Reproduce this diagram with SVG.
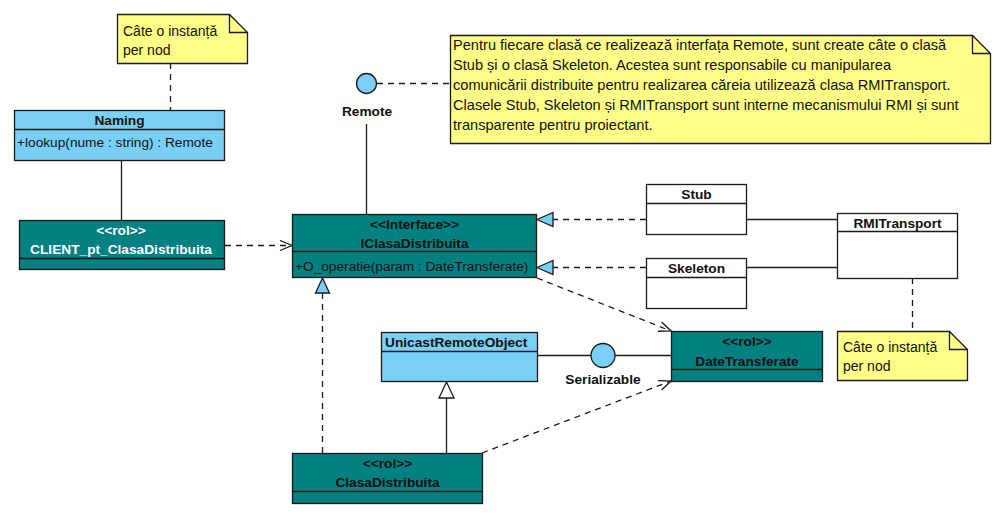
<svg xmlns="http://www.w3.org/2000/svg" width="1001" height="518" viewBox="0 0 1001 518">
  <defs>
    <style>
      .bg { fill: #ffffff; }
      .box { stroke: #1a1a1a; stroke-width: 1.3; }
      .teal { fill: #008080; }
      .blue { fill: #7acff5; }
      .white { fill: #ffffff; }
      .note { fill: #ffff88; stroke: #1a1a1a; stroke-width: 1.3; }
      .sep { stroke: #1a1a1a; stroke-width: 1.3; fill: none; }
      .line { stroke: #1a1a1a; stroke-width: 1.3; fill: none; }
      .dash { stroke: #1a1a1a; stroke-width: 1.3; fill: none; stroke-dasharray: 6 5; }
      .t { font-family: "Liberation Sans", Arial, sans-serif; font-size: 13.7px; fill: #111111; }
      .b { font-weight: bold; }
      .c { text-anchor: middle; }
      .w { fill: #ffffff; }
      .n { font-size: 14px; }
      .m { font-size: 14.6px; }
    </style>
    <marker id="open" viewBox="0 0 14 12" refX="13" refY="6" markerWidth="14" markerHeight="12" markerUnits="userSpaceOnUse" orient="auto">
      <path d="M1,1 L13,6 L1,11" fill="none" stroke="#1a1a1a" stroke-width="1.3"/>
    </marker>
  </defs>

  <rect class="bg" x="0" y="0" width="1001" height="518"/>

  <!-- connectors -->
  <g id="connectors">
    <!-- note anchors -->
    <line class="dash" x1="170.5" y1="63" x2="170.5" y2="110"/>
    <line class="dash" x1="377" y1="83.5" x2="450" y2="83.5"/>
    <line class="dash" x1="912.5" y1="278" x2="912.5" y2="331"/>
    <!-- associations -->
    <line class="line" x1="121.5" y1="160" x2="121.5" y2="220"/>
    <line class="line" x1="366.5" y1="124" x2="366.5" y2="214"/>
    <line class="line" x1="747" y1="219.5" x2="837" y2="219.5"/>
    <line class="line" x1="747" y1="267.5" x2="837" y2="267.5"/>
    <line class="line" x1="537" y1="355.5" x2="591" y2="355.5"/>
    <line class="line" x1="615" y1="355.5" x2="671" y2="355.5"/>
    <!-- dependencies -->
    <line class="dash" x1="225" y1="245.5" x2="292" y2="245.5" marker-end="url(#open)"/>
    <line class="dash" x1="537" y1="278" x2="671" y2="331" marker-end="url(#open)"/>
    <line class="dash" x1="482" y1="453" x2="671" y2="381" marker-end="url(#open)"/>
    <!-- realizations -->
    <line class="dash" x1="646" y1="219.5" x2="553" y2="219.5"/>
    <path d="M537,219.5 L553,212.5 L553,226.5 Z" fill="#7acff5" stroke="#1a1a1a" stroke-width="1.3"/>
    <line class="dash" x1="646" y1="267.5" x2="553" y2="267.5"/>
    <path d="M537,267.5 L553,260.5 L553,274.5 Z" fill="#7acff5" stroke="#1a1a1a" stroke-width="1.3"/>
    <line class="dash" x1="322.5" y1="453" x2="322.5" y2="293"/>
    <path d="M322.5,278 L315.5,293 L329.5,293 Z" fill="#7acff5" stroke="#1a1a1a" stroke-width="1.3"/>
    <!-- generalization -->
    <line class="line" x1="446.5" y1="453" x2="446.5" y2="398"/>
    <path d="M446.5,382 L439,398 L454,398 Z" fill="#ffffff" stroke="#1a1a1a" stroke-width="1.3"/>
  </g>

  <!-- note: Naming instance -->
  <g id="note-naming">
    <path class="note" d="M117.5,14.5 L229.5,14.5 L247.5,32.5 L247.5,63.5 L117.5,63.5 Z"/>
    <path class="sep" d="M229.5,14.5 L229.5,32.5 L247.5,32.5"/>
    <text class="t n" x="123" y="36">Câte o instanță</text>
    <text class="t n" x="123" y="55">per nod</text>
  </g>

  <!-- Naming -->
  <g id="naming">
    <rect class="box blue" x="14.5" y="110.5" width="210" height="50"/>
    <line class="sep" x1="14.5" y1="129.5" x2="224.5" y2="129.5"/>
    <text class="t b c" x="119.5" y="125">Naming</text>
    <text class="t" x="17" y="147">+lookup(nume : string) : Remote</text>
  </g>

  <!-- CLIENT_pt_ClasaDistribuita -->
  <g id="client">
    <rect class="box teal" x="19.5" y="220.5" width="205" height="49"/>
    <line class="sep" x1="19.5" y1="258.5" x2="224.5" y2="258.5"/>
    <text class="t b c w" x="121" y="235">&lt;&lt;rol&gt;&gt;</text>
    <text class="t b c w" x="121" y="254">CLIENT_pt_ClasaDistribuita</text>
  </g>

  <!-- Remote interface lollipop -->
  <g id="remote">
    <circle cx="366.5" cy="83.5" r="10" fill="#7acff5" stroke="#1a1a1a" stroke-width="1.3"/>
    <text class="t b c" x="367" y="116">Remote</text>
  </g>

  <!-- note: RMI explanation -->
  <g id="note-rmi">
    <path class="note" d="M450.5,35.5 L972.5,35.5 L990.5,53.5 L990.5,143.5 L450.5,143.5 Z"/>
    <path class="sep" d="M972.5,35.5 L972.5,53.5 L990.5,53.5"/>
    <text class="t m" x="453" y="50">Pentru fiecare clasă ce realizează interfața Remote, sunt create câte o clasă</text>
    <text class="t m" x="453" y="70">Stub și o clasă Skeleton. Acestea sunt responsabile cu manipularea</text>
    <text class="t m" x="453" y="90">comunicării distribuite pentru realizarea căreia utilizează clasa RMITransport.</text>
    <text class="t m" x="453" y="110">Clasele Stub, Skeleton și RMITransport sunt interne mecanismului RMI și sunt</text>
    <text class="t m" x="453" y="130">transparente pentru proiectant.</text>
  </g>

  <!-- IClasaDistribuita -->
  <g id="iclasa">
    <rect class="box teal" x="292.5" y="214.5" width="244" height="63"/>
    <line class="sep" x1="292.5" y1="251.5" x2="536.5" y2="251.5"/>
    <text class="t b c" x="414.5" y="229">&lt;&lt;Interface&gt;&gt;</text>
    <text class="t b c" x="414.5" y="248">IClasaDistribuita</text>
    <text class="t" x="295" y="271">+O_operatie(param : DateTransferate)</text>
  </g>

  <!-- Stub -->
  <g id="stub">
    <rect class="box white" x="646.5" y="184.5" width="100" height="50"/>
    <line class="sep" x1="646.5" y1="203.5" x2="746.5" y2="203.5"/>
    <text class="t b c" x="696.5" y="199">Stub</text>
  </g>

  <!-- Skeleton -->
  <g id="skeleton">
    <rect class="box white" x="646.5" y="258.5" width="100" height="50"/>
    <line class="sep" x1="646.5" y1="277.5" x2="746.5" y2="277.5"/>
    <text class="t b c" x="696.5" y="273">Skeleton</text>
  </g>

  <!-- RMITransport -->
  <g id="rmitransport">
    <rect class="box white" x="837.5" y="213.5" width="120" height="65"/>
    <line class="sep" x1="837.5" y1="231.5" x2="957.5" y2="231.5"/>
    <text class="t b c" x="897.5" y="228">RMITransport</text>
  </g>

  <!-- note: RMITransport instance -->
  <g id="note-transport">
    <path class="note" d="M837.5,331.5 L949.5,331.5 L967.5,349.5 L967.5,380.5 L837.5,380.5 Z"/>
    <path class="sep" d="M949.5,331.5 L949.5,349.5 L967.5,349.5"/>
    <text class="t n" x="843" y="352">Câte o instanță</text>
    <text class="t n" x="843" y="371">per nod</text>
  </g>

  <!-- DateTransferate -->
  <g id="datetransferate">
    <rect class="box teal" x="671.5" y="331.5" width="151" height="50"/>
    <line class="sep" x1="671.5" y1="369.5" x2="822.5" y2="369.5"/>
    <text class="t b c" x="747" y="346">&lt;&lt;rol&gt;&gt;</text>
    <text class="t b c" x="747" y="366">DateTransferate</text>
  </g>

  <!-- UnicastRemoteObject -->
  <g id="unicast">
    <rect class="box blue" x="381.5" y="332.5" width="156" height="49"/>
    <line class="sep" x1="381.5" y1="351.5" x2="537.5" y2="351.5"/>
    <text class="t b" x="385" y="347">UnicastRemoteObject</text>
  </g>

  <!-- Serializable interface lollipop -->
  <g id="serializable">
    <circle cx="603" cy="355.5" r="12" fill="#7acff5" stroke="#1a1a1a" stroke-width="1.3"/>
    <text class="t b c" x="603" y="384">Serializable</text>
  </g>

  <!-- ClasaDistribuita -->
  <g id="clasadistribuita">
    <rect class="box teal" x="292.5" y="453.5" width="190" height="50"/>
    <line class="sep" x1="292.5" y1="491.5" x2="482.5" y2="491.5"/>
    <text class="t b c" x="387.5" y="468">&lt;&lt;rol&gt;&gt;</text>
    <text class="t b c" x="387.5" y="487">ClasaDistribuita</text>
  </g>
</svg>
